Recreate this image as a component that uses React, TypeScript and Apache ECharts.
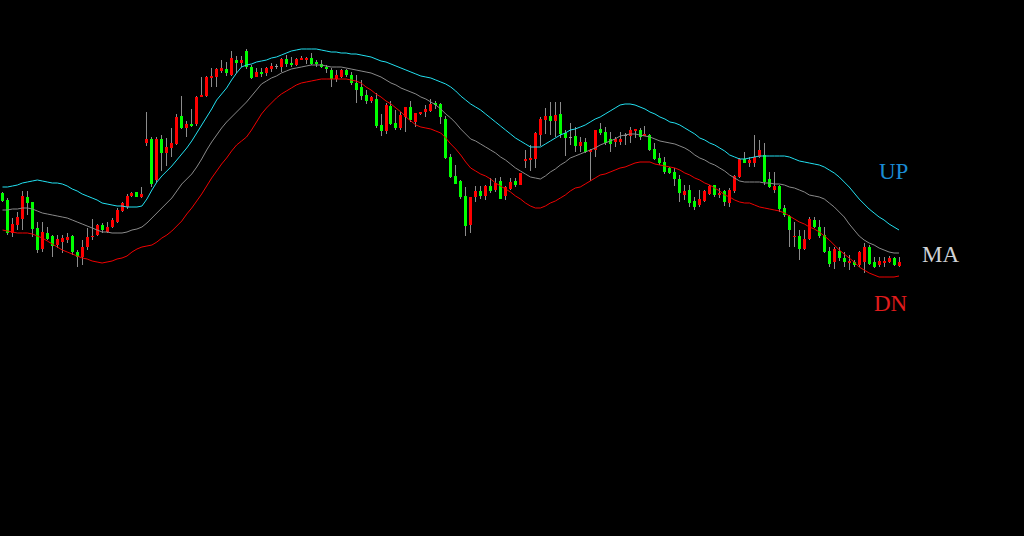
import React, { useEffect, useRef } from "react";
import * as echarts from "echarts";

const openP = [
  107,
  100,67,75,81,103,98,72,51,67,64,
  55,58,60,64,48,43,53,63,65,75,
  68,73,78,89,93,104,108,103,157,161,
  120,161,147,152,156,184,172,176,176,203,
  204,222,223,229,231,225,240,237,249,233,
  223,228,227,231,234,233,241,237,235,240,
  240,242,238,236,233,230,221,223,230,225,
  217,213,205,199,201,175,169,194,177,172,
  183,193,178,186,188,189,197,196,181,143,
  124,119,104,75,103,109,104,114,110,119,
  104,111,119,115,139,140,141,165,180,184,
  179,186,167,163,164,154,158,148,150,171,
  168,161,158,158,165,164,169,170,164,165,
  151,142,138,132,128,121,105,110,99,95,
  99,106,115,105,109,97,109,123,141,137,
  137,143,145,121,110,114,92,84,63,64,
  51,61,80,73,65,49,38,49,42,37,
  38,35,38,53,38,35,37,38,42,34,
];
const closeP = [
  99,
  67,76,83,104,97,71,50,68,61,54,
  61,62,63,48,43,53,63,64,75,70,
  73,80,90,97,104,107,103,106,161,116,
  161,147,153,157,183,172,176,174,203,205,
  223,224,231,232,227,242,237,240,233,222,
  228,226,232,234,234,241,236,235,241,242,
  242,236,236,233,231,221,225,230,225,217,
  210,204,199,203,174,169,195,176,172,185,
  193,180,187,188,191,196,195,183,142,123,
  116,103,74,103,109,104,114,109,117,101,
  113,118,115,127,141,142,167,181,184,179,
  185,166,162,163,154,158,148,150,170,167,
  157,156,161,161,165,170,171,163,166,150,
  141,137,128,127,121,107,109,97,93,101,
  109,114,105,107,98,110,124,141,137,140,
  143,150,118,113,114,91,85,70,64,51,
  61,81,73,64,48,36,51,42,38,39,
  35,48,53,36,33,39,39,42,35,38,
];
const lowP = [
  98,
  65,63,70,70,85,63,47,48,60,43,
  52,47,57,45,33,35,50,60,64,67,
  67,72,77,88,91,103,103,102,154,113,
  118,129,134,143,155,171,163,173,174,203,
  203,213,213,227,224,224,227,233,231,221,
  223,223,224,228,231,228,233,233,234,240,
  236,235,233,232,227,213,218,222,223,215,
  197,200,196,197,172,164,166,175,170,170,
  168,178,173,185,183,188,191,176,141,122,
  116,101,64,67,98,101,100,107,108,101,
  100,110,113,115,132,129,132,154,166,165,
  163,162,144,155,148,148,147,119,143,165,
  155,148,153,155,155,157,162,160,164,149,
  140,135,126,126,114,98,100,93,90,93,
  98,105,103,102,94,93,107,122,137,133,
  133,142,115,112,107,88,83,53,53,40,
  50,60,72,62,47,33,31,39,33,30,
  33,33,27,35,32,33,33,37,34,33,
];
const highP = [
  108,
  102,82,88,109,109,98,78,78,73,65,
  65,65,67,65,50,60,72,81,76,77,
  78,82,92,98,106,108,108,113,188,163,
  163,165,162,172,186,204,179,191,204,223,
  224,232,232,240,238,249,244,244,251,235,
  232,232,233,237,236,242,245,243,242,244,
  243,247,240,240,235,232,230,231,231,228,
  225,220,210,204,207,186,197,199,190,188,
  193,199,187,188,195,201,199,197,184,146,
  135,120,113,103,114,114,115,122,122,123,
  114,122,122,127,150,155,168,183,192,198,
  198,198,170,177,173,163,162,151,170,177,
  173,168,163,168,167,173,171,172,174,166,
  157,147,143,133,132,125,115,115,103,110,
  110,115,115,112,110,112,125,142,148,143,
  165,160,157,128,128,115,95,85,78,70,
  70,83,83,80,73,53,53,53,48,45,
  40,49,57,55,43,43,43,44,43,43,
];
const upBand = [
  113,
  113,114,115,117,118,119,120,119,118,117,
  117,116,114,111,109,106,104,102,100,97,
  96,95,94,94,93,93,93,94,101,110,
  118,124,129,134,140,146,152,159,167,175,
  183,191,200,206,212,220,227,233,235,236,
  238,239,240,242,243,245,247,249,250,251,
  251,251,251,250,249,248,248,247,247,246,
  246,245,244,243,241,239,238,236,234,232,
  230,228,226,224,223,222,220,218,216,213,
  209,204,200,196,193,190,186,182,178,174,
  170,166,162,159,156,153,153,153,156,159,
  162,165,167,170,171,173,175,178,181,183,
  186,189,192,195,196,196,195,193,191,188,
  186,183,181,178,177,175,172,169,166,162,
  160,157,155,152,149,145,143,141,141,142,
  143,144,144,144,144,144,144,143,141,139,
  138,137,136,135,133,130,127,123,118,113,
  107,101,96,91,87,83,80,76,73,70,
];
const maLine = [
  90,
  90,91,91,92,92,91,89,87,86,85,
  84,83,82,80,78,76,74,72,70,68,
  68,67,67,67,68,70,71,73,77,82,
  87,92,97,102,109,116,121,126,133,141,
  150,158,165,172,178,183,188,193,198,204,
  210,216,219,222,224,227,229,231,232,233,
  234,235,235,235,234,233,233,233,232,231,
  230,229,228,227,225,223,220,217,215,212,
  210,208,206,203,201,198,195,191,186,182,
  177,171,166,161,159,156,153,150,147,143,
  140,136,132,129,126,123,122,121,124,128,
  131,135,138,142,144,146,148,150,152,155,
  157,159,161,164,165,166,166,165,164,163,
  161,159,158,157,156,154,152,149,145,142,
  140,137,135,132,129,125,122,119,118,118,
  118,118,117,117,116,116,115,113,112,110,
  108,105,104,103,101,97,93,88,83,76,
  70,64,60,57,55,52,50,48,47,47,
];
const dnBand = [
  70,
  69,68,67,67,67,66,64,62,59,56,
  53,50,48,46,44,42,41,39,38,37,
  38,39,41,42,44,48,51,53,54,55,
  58,62,65,69,74,79,86,92,99,106,
  114,122,129,136,142,149,155,159,163,170,
  178,186,192,197,202,206,209,212,215,217,
  218,219,220,221,221,221,221,221,221,220,
  219,217,213,210,206,203,199,196,192,188,
  183,179,175,173,172,171,169,167,162,156,
  151,145,138,132,129,126,124,121,117,114,
  111,108,104,101,97,94,92,92,94,97,
  99,102,105,109,112,113,116,119,122,125,
  126,128,130,132,133,135,137,138,138,138,
  136,135,134,133,132,130,127,125,122,120,
  117,115,112,109,105,103,100,98,97,97,
  95,93,92,91,90,89,87,84,81,78,
  76,73,71,68,64,60,55,50,46,42,
  38,33,30,27,25,23,23,23,23,24,
];
const categories = openP.map((_, i) => String(i));
const bandLabels = ["UP", "MA", "DN"];

export default function App() {
  const ref = useRef<HTMLDivElement>(null);
  useEffect(() => {
    if (!ref.current) return;
    const chart = echarts.init(ref.current, null, { renderer: "svg" });
    const candleData = categories.map((_, i) => [i, openP[i], closeP[i], lowP[i], highP[i]]);
    const renderItem = (params: any, api: any) => {
      const i = api.value(0);
      const o = api.value(1);
      const c = api.value(2);
      const l = api.value(3);
      const h = api.value(4);
      const po = api.coord([i, o]);
      const pc = api.coord([i, c]);
      const pl = api.coord([i, l]);
      const ph = api.coord([i, h]);
      const cx = Math.floor(po[0]);
      const color = c > o ? "#ff0000" : c < o ? "#00ff00" : "#9a9a9a";
      const top = Math.min(po[1], pc[1]);
      const bot = Math.max(po[1], pc[1]);
      return {
        type: "group",
        children: [
          {
            type: "line",
            shape: { x1: cx + 0.5, y1: ph[1], x2: cx + 0.5, y2: pl[1] },
            style: { stroke: "#8c8c8c", lineWidth: 1 },
          },
          {
            type: "rect",
            shape: { x: cx - 1, y: top, width: 3, height: Math.max(1, bot - top) },
            style: { fill: color },
          },
        ],
      };
    };
    const lineSeries = (name: string, data: number[], color: string) => ({
      name,
      type: "line",
      data,
      showSymbol: false,
      symbol: "none",
      silent: true,
      z: 4,
      lineStyle: { color, width: 1 },
    });
    chart.setOption({
      animation: false,
      backgroundColor: "#000000",
      grid: { left: -3.5, top: 0, width: 905, height: 300 },
      xAxis: { type: "category", data: categories, show: false, boundaryGap: true },
      yAxis: { type: "value", min: 0, max: 300, show: false, splitLine: { show: false } },
      series: [
        {
          type: "custom",
          renderItem,
          data: candleData,
          encode: { x: 0, y: [1, 2, 3, 4] },
          z: 3,
          silent: true,
        },
        lineSeries(bandLabels[0], upBand, "#22e0f0"),
        lineSeries(bandLabels[1], maLine, "#8a8a8a"),
        lineSeries(bandLabels[2], dnBand, "#f00000"),
      ],
      graphic: [
        {
          type: "text",
          x: 879,
          y: 171,
          style: { text: bandLabels[0], fill: "#1a8bd4", font: '23px "Liberation Serif"', verticalAlign: "middle" },
        },
        {
          type: "text",
          x: 922,
          y: 254,
          style: { text: bandLabels[1], fill: "#cfd2d6", font: '23px "Liberation Serif"', verticalAlign: "middle" },
        },
        {
          type: "text",
          x: 874,
          y: 303,
          style: { text: bandLabels[2], fill: "#e01c1c", font: '23px "Liberation Serif"', verticalAlign: "middle" },
        },
      ],
    });
    return () => chart.dispose();
  }, []);
  return (
    <div
      ref={ref}
      style={{ position: "fixed", left: 0, top: 0, width: 1024, height: 536, background: "#000" }}
    />
  );
}
